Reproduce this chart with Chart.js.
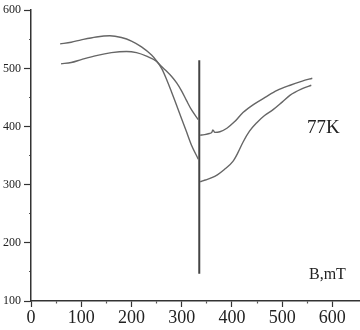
<!DOCTYPE html>
<html>
<head>
<meta charset="utf-8">
<script src="https://cdn.jsdelivr.net/npm/chart.js@4.4.1/dist/chart.umd.min.js"></script>
<style>
  html, body { margin: 0; padding: 0; background: #fff; }
  canvas { display: block; }
</style>
</head>
<body>
<canvas id="esr" width="360" height="330"></canvas>
<script>
// Field (mT) and signal values
const fieldA = [58, 80, 100, 130, 157, 180, 200, 220, 240, 250, 260, 270, 280, 290, 300, 310, 320, 333];
const signalA = [542, 545, 549, 554, 556, 553, 547, 537, 523, 513, 500, 481, 459, 436, 413, 390, 367, 344];

const fieldB = [60, 80, 100, 130, 160, 190, 210, 230, 250, 260, 270, 280, 290, 300, 310, 320, 333];
const signalB = [508, 510, 515, 522, 527, 529, 527, 521, 512, 503, 495, 486, 475, 461, 444, 428, 412];

const spikeField = [335, 335];
const spikeSignal = [514, 147];

const fieldUpperRight = [337, 345, 355, 360, 362, 366, 376, 390, 405, 422, 445, 466, 490, 516, 540, 560];
const signalUpperRight = [385, 386, 388, 390, 394, 390, 391, 397, 408, 424, 439, 450, 462, 471, 478, 483];

const fieldLowerRight = [337, 347, 360, 371, 385, 402, 412, 422, 435, 450, 465, 482, 500, 516, 540, 558];
const signalLowerRight = [305, 308, 312, 317, 326, 340, 355, 373, 392, 407, 419, 429, 442, 454, 465, 471];

const xTickLabels = [0, 100, 200, 300, 400, 500, 600];
const yTickLabels = [100, 200, 300, 400, 500, 600];

const toPoints = (xs, ys) => xs.map((x, i) => ({ x: x, y: ys[i] }));

const lineStyle = (color, width) => ({
  borderColor: color,
  borderWidth: width,
  pointRadius: 0,
  fill: false,
  cubicInterpolationMode: 'monotone'
});

// Plain text annotations inside the plot
const labelsPlugin = {
  id: 'labels',
  afterDraw(chart) {
    const ctx = chart.ctx;
    ctx.save();
    ctx.fillStyle = '#222';
    ctx.textBaseline = 'alphabetic';
    ctx.font = '19px "Liberation Serif"';
    ctx.fillText('77K', 307, 133);
    ctx.font = '16px "Liberation Serif"';
    ctx.fillText('B,mT', 309, 279);
    ctx.restore();
  }
};

const isMajor = (ctx) => ctx.tick && ctx.tick.value % 100 === 0;

new Chart(document.getElementById('esr'), {
  type: 'line',
  data: {
    datasets: [
      Object.assign({ data: toPoints(fieldA, signalA) }, lineStyle('#666', 1.4)),
      Object.assign({ data: toPoints(fieldB, signalB) }, lineStyle('#666', 1.4)),
      Object.assign({ data: toPoints(spikeField, spikeSignal) }, lineStyle('#444', 2)),
      Object.assign({ data: toPoints(fieldUpperRight, signalUpperRight) }, lineStyle('#666', 1.4)),
      Object.assign({ data: toPoints(fieldLowerRight, signalLowerRight) }, lineStyle('#666', 1.4))
    ]
  },
  options: {
    responsive: false,
    animation: false,
    layout: { padding: { top: 6, right: 0, left: 0, bottom: 0 } },
    plugins: {
      legend: { display: false },
      tooltip: { enabled: false }
    },
    scales: {
      x: {
        type: 'linear',
        min: 0,
        max: 655,
        afterFit: (s) => { s.height = 29; },
        afterBuildTicks: (s) => { s.ticks = s.ticks.filter(t => t.value <= 600); },
        border: { color: '#333', width: 1.5 },
        grid: {
          drawOnChartArea: false,
          tickLength: 6,
          tickColor: (ctx) => isMajor(ctx) ? '#333' : '#555',
          tickWidth: 1.2,
          tickBorderDash: (ctx) => isMajor(ctx) ? [] : [2, 10]
        },
        ticks: {
          stepSize: 50,
          autoSkip: false,
          maxRotation: 0,
          padding: 0,
          color: '#222',
          font: { family: 'Liberation Serif', size: 18 },
          callback: (v) => xTickLabels.includes(v) ? String(v) : ''
        }
      },
      y: {
        min: 100,
        max: 600,
        afterFit: (s) => { s.width = 31; },
        border: { color: '#333', width: 1.5 },
        grid: {
          drawOnChartArea: false,
          tickLength: 7,
          tickColor: (ctx) => isMajor(ctx) ? '#333' : '#555',
          tickWidth: 1.2,
          tickBorderDash: (ctx) => isMajor(ctx) ? [] : [0, 5, 2, 10]
        },
        ticks: {
          stepSize: 50,
          autoSkip: false,
          padding: 3,
          color: '#222',
          font: { family: 'Liberation Serif', size: 12 },
          callback: (v) => yTickLabels.includes(v) ? String(v) : ''
        }
      }
    }
  },
  plugins: [labelsPlugin]
});
</script>
</body>
</html>
